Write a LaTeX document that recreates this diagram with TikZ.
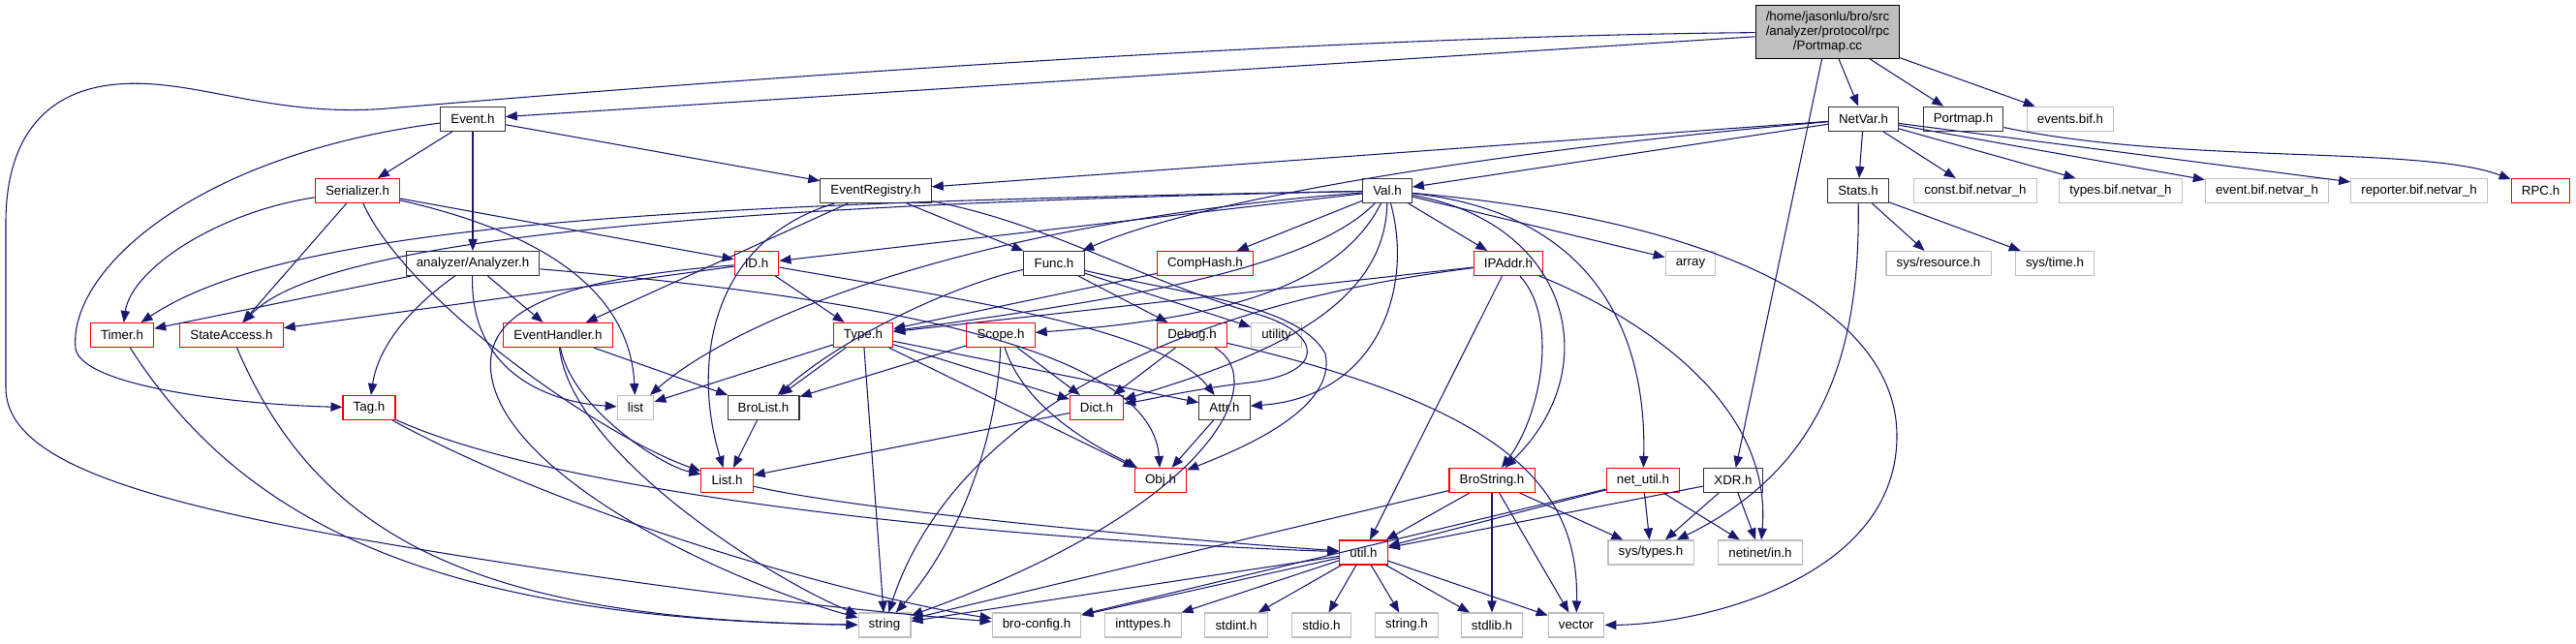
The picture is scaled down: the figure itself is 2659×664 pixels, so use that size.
\documentclass[tikz,border=0pt]{standalone}
\usepackage{fontspec}
\setmainfont{Liberation Sans}
\definecolor{edgeblue}{RGB}{25, 25, 112}
\definecolor{sysgrey}{RGB}{191, 191, 191}
\usetikzlibrary{arrows.meta}

\tikzset{
  hfile/.style={draw=black!80, fill=white, line width=0.8pt, minimum height=18.75pt, inner xsep=8pt, inner ysep=0pt, font=\fontsize{10}{11.25}\selectfont},
  redfile/.style={hfile, draw=red},
  sysfile/.style={hfile, draw=sysgrey},
  inc/.style={draw=edgeblue, line width=0.8pt, -{Triangle[length=9pt, width=7pt]}}
}

\begin{document}
\begin{tikzpicture}[x=0.75pt, y=-0.75pt]
  \useasboundingbox (0,0) rectangle (2659,664);

  % the file itself
  \node[hfile, fill=sysgrey, draw=black, align=center, minimum height=41.25pt] (root) at (1886.5,33) {/home/jasonlu/bro/src\\/analyzer/protocol/rpc\\/Portmap.cc};

  % headers, row by row
  \node[hfile] (event) at (488,122.7) {Event.h};
  \node[hfile] (netvar) at (1923.5,122.7) {NetVar.h};
  \node[hfile] (portmaph) at (2026.5,122.7) {Portmap.h};
  \node[sysfile] (eventsbif) at (2137,122.7) {events.bif.h};

  \node[redfile] (serial) at (369,197) {Serializer.h};
  \node[hfile] (evreg) at (904,197) {EventRegistry.h};
  \node[hfile] (val) at (1432,197) {Val.h};
  \node[hfile] (stats) at (1918,197) {Stats.h};
  \node[sysfile] (constbif) at (2039,197) {const.bif.netvar\_h};
  \node[sysfile] (typesbif) at (2189,197) {types.bif.netvar\_h};
  \node[sysfile] (eventbif) at (2340,197) {event.bif.netvar\_h};
  \node[sysfile] (reporterbif) at (2497,197) {reporter.bif.netvar\_h};
  \node[redfile] (rpc) at (2622.5,197) {RPC.h};

  \node[hfile] (analyzer) at (488,272) {analyzer/Analyzer.h};
  \node[redfile] (id) at (781,272) {ID.h};
  \node[hfile] (func) at (1088,272) {Func.h};
  \node[redfile] (comphash) at (1244,272) {CompHash.h};
  \node[redfile] (ipaddr) at (1557,272) {IPAddr.h};
  \node[sysfile] (array) at (1745,272) {array};
  \node[sysfile] (sysres) at (2001,272) {sys/resource.h};
  \node[sysfile] (systime) at (2121,272) {sys/time.h};

  \node[redfile] (timer) at (126,346) {Timer.h};
  \node[redfile] (stateacc) at (239,346) {StateAccess.h};
  \node[redfile] (evhandler) at (576,346) {EventHandler.h};
  \node[redfile] (type) at (891,346) {Type.h};
  \node[redfile] (scope) at (1033,346) {Scope.h};
  \node[redfile] (debug) at (1230.5,346) {Debug.h};
  \node[sysfile] (utility) at (1317.5,346) {utility};

  \node[redfile] (tag) at (381,421) {Tag.h};
  \node[sysfile] (stdlist) at (656,421) {list};
  \node[hfile] (brolist) at (788,421) {BroList.h};
  \node[redfile] (dict) at (1132,421) {Dict.h};
  \node[hfile] (attr) at (1264,421) {Attr.h};

  \node[redfile] (list) at (750.5,496) {List.h};
  \node[redfile] (obj) at (1198,496) {Obj.h};
  \node[redfile] (brostring) at (1540,496) {BroString.h};
  \node[redfile] (netutil) at (1696,496) {net\_util.h};
  \node[hfile] (xdr) at (1789,496) {XDR.h};

  \node[redfile] (util) at (1407.5,570.5) {util.h};
  \node[sysfile] (systypes) at (1704,570.5) {sys/types.h};
  \node[sysfile] (netinet) at (1817,570.5) {netinet/in.h};

  \node[sysfile] (string) at (913,645.5) {string};
  \node[sysfile] (broconfig) at (1070,645.5) {bro-config.h};
  \node[sysfile] (inttypes) at (1180,645.5) {inttypes.h};
  \node[sysfile] (stdint) at (1276,645.5) {stdint.h};
  \node[sysfile] (stdio) at (1364,645.5) {stdio.h};
  \node[sysfile] (stringh) at (1452,645.5) {string.h};
  \node[sysfile] (stdlib) at (1540,645.5) {stdlib.h};
  \node[sysfile] (vector) at (1627,645.5) {vector};

  % includes of Portmap.cc
  \draw[inc] (root) -- (event);
  \draw[inc] (root) -- (netvar);
  \draw[inc] (root) -- (portmaph);
  \draw[inc] (root) -- (eventsbif);
  \draw[inc] (root) -- (xdr);
  \draw[inc] (root) .. controls (1300,38) and (600,95) .. (400,112) .. controls (280,122) and (200,80) .. (121,87) .. controls (40,94) and (6,150) .. (6,230) -- (6,400) .. controls (6,470) and (120,515) .. (402,562) .. controls (700,612) and (900,632) .. (broconfig);

  % Event.h
  \draw[inc] (event) -- (serial);
  \draw[inc] (event) -- (analyzer);
  \draw[inc] (event) -- (evreg);
  \draw[inc] (event) .. controls (200,160) and (70,280) .. (78,360) .. controls (85,400) and (250,418) .. (tag);

  % Serializer.h
  \draw[inc] (serial) .. controls (220,220) and (135,280) .. (timer);
  \draw[inc] (serial) -- (stateacc);
  \draw[inc] (serial) .. controls (420,310) and (620,450) .. (list);
  \draw[inc] (serial) .. controls (560,240) and (650,300) .. (stdlist);
  \draw[inc] (serial) -- (id);

  % analyzer/Analyzer.h
  \draw[inc] (analyzer) -- (timer);
  \draw[inc] (analyzer) .. controls (420,320) and (390,360) .. (tag);
  \draw[inc] (analyzer) .. controls (485,380) and (560,415) .. (stdlist);
  \draw[inc] (analyzer) -- (evhandler);
  \draw[inc] (analyzer) .. controls (1000,315) and (1190,380) .. (obj);

  % EventRegistry.h
  \draw[inc] (evreg) -- (evhandler);
  \draw[inc] (evreg) .. controls (730,250) and (715,380) .. (list);
  \draw[inc] (evreg) -- (func);
  \draw[inc] (evreg) .. controls (1080,230) and (1180,290) .. (1300,325) .. controls (1365,345) and (1370,385) .. (1290,395) .. controls (1230,402) and (1190,412) .. (dict);

  % NetVar.h
  \draw[inc] (netvar) -- (evreg);
  \draw[inc] (netvar) -- (val);
  \draw[inc] (netvar) .. controls (1600,150) and (1250,200) .. (func);
  \draw[inc] (netvar) -- (stats);
  \draw[inc] (netvar) -- (constbif);
  \draw[inc] (netvar) -- (typesbif);
  \draw[inc] (netvar) -- (eventbif);
  \draw[inc] (netvar) -- (reporterbif);
  \draw[inc] (portmaph) .. controls (2250,170) and (2500,150) .. (rpc);

  % Stats.h
  \draw[inc] (stats) -- (sysres);
  \draw[inc] (stats) -- (systime);
  \draw[inc] (stats) .. controls (1920,350) and (1890,480) .. (systypes);

  % Val.h
  \draw[inc] (val) -- (id);
  \draw[inc] (val) .. controls (700,210) and (300,230) .. (timer);
  \draw[inc] (val) .. controls (700,212) and (330,250) .. (stateacc);
  \draw[inc] (val) .. controls (1000,230) and (760,330) .. (stdlist);
  \draw[inc] (val) -- (comphash);
  \draw[inc] (val) -- (ipaddr);
  \draw[inc] (val) -- (array);
  \draw[inc] (val) .. controls (1350,280) and (1150,310) .. (type);
  \draw[inc] (val) .. controls (1380,300) and (1250,330) .. (scope);
  \draw[inc] (val) .. controls (1430,320) and (1300,370) .. (dict);
  \draw[inc] (val) .. controls (1460,300) and (1420,410) .. (attr);
  \draw[inc] (val) .. controls (1620,230) and (1660,380) .. (brostring);
  \draw[inc] (val) .. controls (1650,220) and (1700,350) .. (netutil);
  \draw[inc] (val) .. controls (1800,230) and (1958,330) .. (1958,450) .. controls (1958,600) and (1750,645) .. (vector);

  % IPAddr.h and CompHash.h
  \draw[inc] (ipaddr) -- (type);
  \draw[inc] (ipaddr) .. controls (1100,330) and (960,500) .. (string);
  \draw[inc] (ipaddr) .. controls (1610,330) and (1590,430) .. (brostring);
  \draw[inc] (ipaddr) -- (util);
  \draw[inc] (ipaddr) .. controls (1700,330) and (1830,420) .. (netinet);
  \draw[inc] (comphash) -- (type);

  % Func.h
  \draw[inc] (func) .. controls (1000,290) and (880,340) .. (brolist);
  \draw[inc] (func) -- (debug);
  \draw[inc] (func) -- (utility);
  \draw[inc] (func) .. controls (1230,305) and (1340,315) .. (1368,365) .. controls (1380,420) and (1290,460) .. (obj);

  % ID.h
  \draw[inc] (id) -- (type);
  \draw[inc] (id) .. controls (1000,310) and (1200,340) .. (attr);
  \draw[inc] (id) -- (stateacc);
  \draw[inc] (id) .. controls (550,290) and (490,330) .. (510,400) .. controls (540,500) and (750,600) .. (string);

  % Type.h
  \draw[inc] (type) -- (brolist);
  \draw[inc] (type) -- (stdlist);
  \draw[inc] (type) -- (string);
  \draw[inc] (type) -- (dict);
  \draw[inc] (type) -- (attr);
  \draw[inc] (type) -- (obj);

  % Scope.h and Debug.h
  \draw[inc] (scope) -- (brolist);
  \draw[inc] (scope) .. controls (1030,450) and (990,560) .. (string);
  \draw[inc] (scope) -- (dict);
  \draw[inc] (scope) .. controls (1060,430) and (1150,470) .. (obj);
  \draw[inc] (debug) -- (dict);
  \draw[inc] (debug) .. controls (1310,390) and (1260,520) .. (string);
  \draw[inc] (debug) .. controls (1550,420) and (1630,500) .. (vector);

  % lower headers
  \draw[inc] (attr) -- (obj);
  \draw[inc] (dict) -- (list);
  \draw[inc] (brolist) -- (list);
  \draw[inc] (list) .. controls (900,530) and (1250,560) .. (util);
  \draw[inc] (tag) .. controls (600,520) and (1100,560) .. (util);
  \draw[inc] (tag) .. controls (600,540) and (900,620) .. (broconfig);
  \draw[inc] (timer) .. controls (250,540) and (450,640) .. (string);
  \draw[inc] (stateacc) .. controls (330,560) and (500,640) .. (string);
  \draw[inc] (evhandler) -- (brolist);
  \draw[inc] (evhandler) .. controls (590,420) and (680,480) .. (list);
  \draw[inc] (evhandler) .. controls (590,470) and (800,600) .. (string);

  % BroString.h, net_util.h, XDR.h
  \draw[inc] (brostring) -- (string);
  \draw[inc] (brostring) -- (util);
  \draw[inc] (brostring) -- (stdlib);
  \draw[inc] (brostring) -- (vector);
  \draw[inc] (brostring) -- (systypes);
  \draw[inc] (netutil) -- (util);
  \draw[inc] (netutil) -- (broconfig);
  \draw[inc] (netutil) -- (systypes);
  \draw[inc] (netutil) -- (netinet);
  \draw[inc] (xdr) -- (util);
  \draw[inc] (xdr) -- (systypes);
  \draw[inc] (xdr) -- (netinet);

  % util.h
  \foreach \dst in {string, broconfig, inttypes, stdint, stdio, stringh, stdlib, vector}
    \draw[inc] (util) -- (\dst);
\end{tikzpicture}
\end{document}
